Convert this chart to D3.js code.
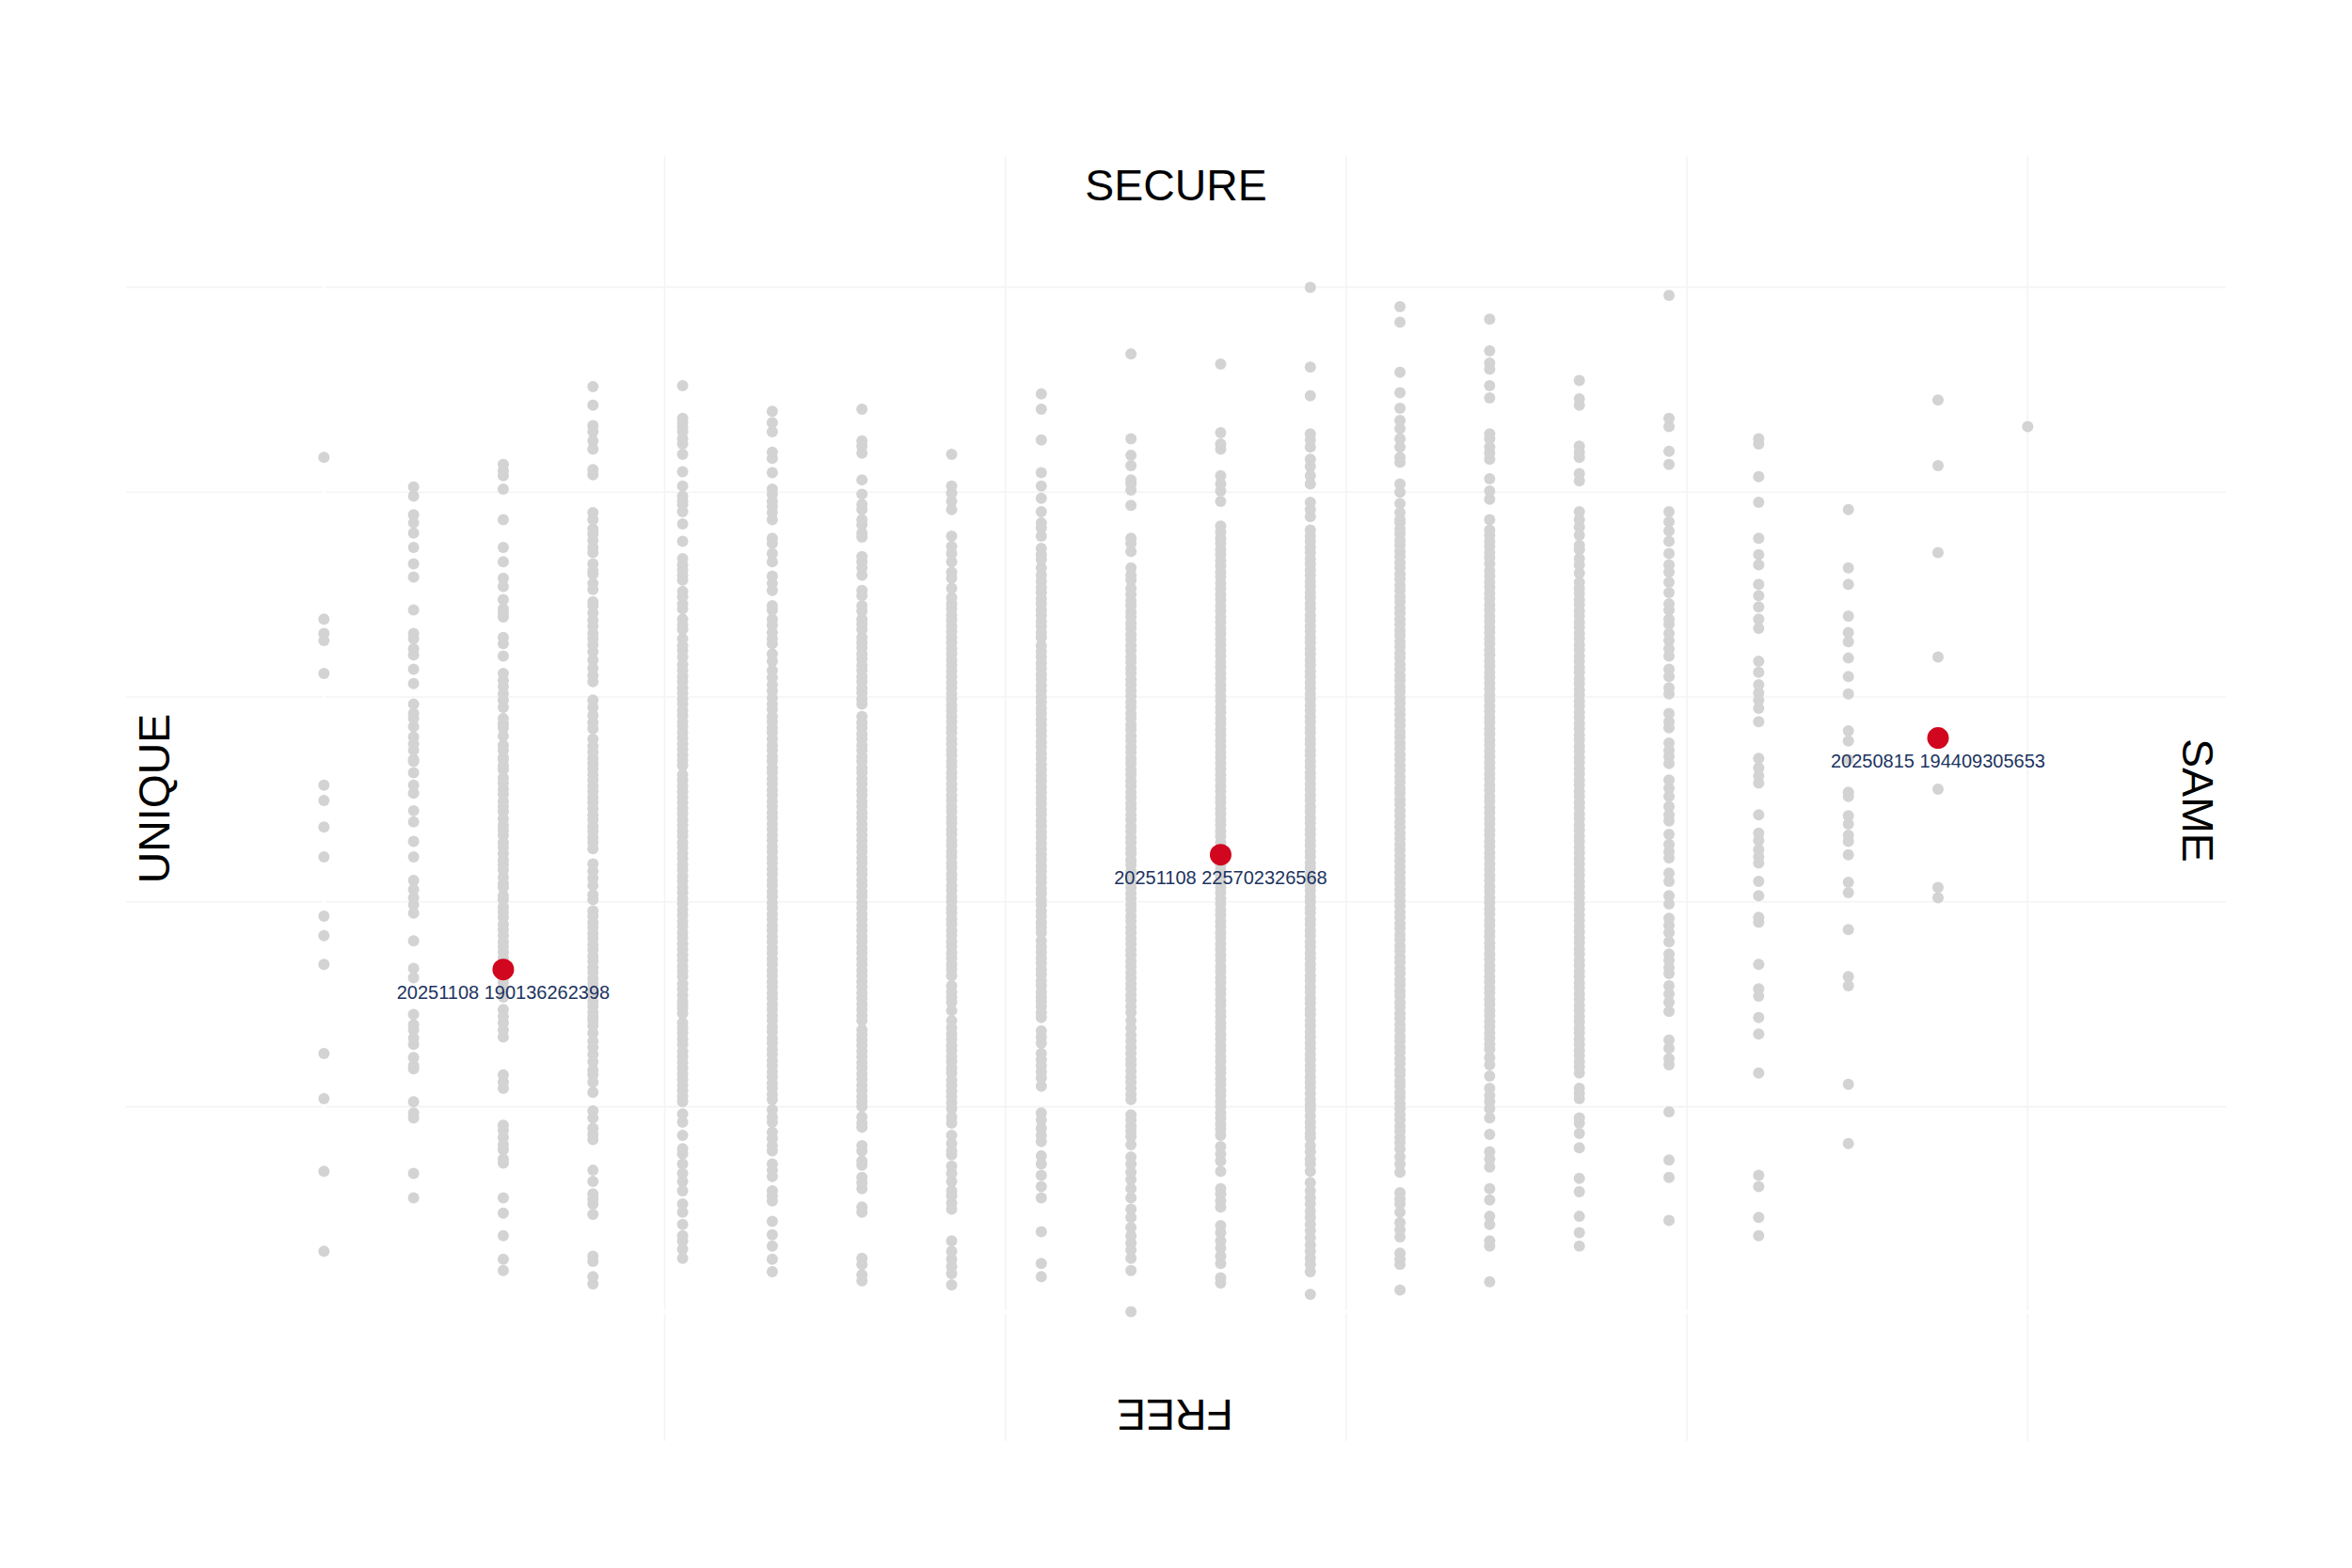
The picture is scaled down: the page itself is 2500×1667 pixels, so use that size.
<!DOCTYPE html>
<html>
<head>
<meta charset="utf-8">
<script src="https://cdnjs.cloudflare.com/ajax/libs/d3/7.8.5/d3.min.js"></script>
<style>
    html, body { margin: 0; padding: 0; background: #fff; }
    svg { display: block; }
    text { font-family: "Liberation Sans", Helvetica, Arial, sans-serif; }
</style>
</head>
<body>
<div id="chart"></div>
<script>
// scores per column, in thousandths (0 to 1000)
const col00 = [59,137,208,252,339,367,386,444,473,499,514,623,655,662,676,834];
const col01 = [111,135,189,194,205,237,240,248,261,267,275,280,290,326,335,362,389,397,404,412,421,444,459,478,489,506,514,526,537,539,548,554,561,571,579,584,593,613,627,641,647,657,662,685,717,730,746,760,770,778,796,805];
const col02 = [40,51,74,96,111,145,149,158,163,170,177,182,218,224,231,268,275,282,288,295,307,314,321,326,334,339,345,351,356,361,367,373,378,385,390,395,402,406,414,418,424,431,436,441,447,453,458,465,470,475,481,488,493,498,505,510,516,521,529,533,539,541,548,553,562,570,574,579,590,597,603,610,616,623,640,652,658,678,682,686,695,708,716,732,746,773,803,816,821,827];
const col03 = [27,34,49,54,95,105,110,115,127,138,168,173,179,189,196,214,224,231,236,244,251,258,264,272,279,284,287,292,298,303,309,314,320,325,331,336,342,347,353,358,364,369,375,380,386,391,402,407,416,423,430,437,452,458,463,469,474,480,485,491,497,502,508,513,519,524,530,535,540,546,552,559,569,575,582,590,597,615,621,628,636,644,651,657,662,669,675,682,689,693,705,711,720,723,730,741,746,753,759,764,773,780,817,822,842,850,859,865,885,903];
const col04 = [52,61,69,74,85,97,105,118,127,135,144,154,159,172,185,193,205,210,216,221,227,232,238,243,249,254,261,266,272,277,282,291,296,299,303,309,315,320,327,332,337,343,348,354,359,365,370,376,381,387,392,398,403,409,414,420,425,431,436,442,447,453,458,464,469,475,480,486,491,497,502,508,513,519,524,533,538,543,549,554,560,565,571,576,582,587,593,598,604,609,615,620,626,632,639,645,650,657,666,670,676,686,691,698,703,714,719,724,729,735,752,769,781,788,791,796,806,820,837,847,852,859,863,868,872,904];
const col05 = [39,51,64,75,88,108,113,118,132,138,144,157,162,169,175,185,190,197,207,212,218,223,229,234,240,245,251,256,262,267,273,278,284,289,295,300,306,311,317,322,328,333,339,344,350,355,361,366,372,377,383,388,394,399,405,410,416,421,427,432,438,443,449,454,460,465,471,476,482,487,493,498,504,509,515,520,526,531,537,542,548,553,559,565,570,576,581,588,593,599,606,612,619,626,635,642,652,657,663,670,676,685,689,704,711,718,732,740,750,755,773,780,786,791,798,803,819,833,839,859,868,879];
const col06 = [30,36,46,52,97,102,120,126,131,143,147,157,162,180,184,190,200,205,210,216,221,227,232,238,243,249,254,260,265,270,275,284,289,295,300,306,311,317,322,328,333,339,344,350,355,361,366,372,377,383,388,394,399,405,410,416,421,427,432,438,443,449,454,460,465,471,476,482,487,493,498,504,509,515,520,526,531,537,542,548,553,559,564,570,575,581,593,598,604,609,615,620,626,631,637,642,648,653,658,666,671,676,684,689,699,704,719,726,732,737,756,760,768,773,783,788,798,812,838,845,850,881];
const col07 = [26,37,44,51,59,69,100,106,113,118,127,135,142,153,157,164,172,184,190,198,204,210,215,221,226,233,238,244,249,255,260,266,271,277,284,294,302,307,312,318,328,334,339,345,350,356,361,367,372,378,383,389,394,400,405,411,416,422,427,433,438,444,449,455,460,466,471,477,482,488,493,499,504,510,515,521,526,532,537,543,548,554,559,565,570,576,581,587,592,598,603,609,614,620,625,631,636,642,647,653,658,664,669,675,680,686,691,697,706,716,722,732,740,747,757,783,791,799,806,837];
const col08 = [34,47,78,111,122,133,144,152,166,172,179,187,194,220,228,234,240,246,252,262,268,274,287,292,298,303,307,312,318,323,329,334,340,345,351,356,362,370,375,380,386,391,397,402,408,413,419,424,430,435,441,446,452,457,463,468,474,479,485,490,496,501,507,512,518,523,529,534,540,545,551,556,562,567,573,578,584,589,595,600,606,611,617,622,628,633,639,644,650,658,663,669,674,680,685,691,696,702,707,713,719,726,734,739,745,757,765,770,781,794,806,819,851,881,896];
const col09 = [0,40,52,60,67,74,82,92,100,111,120,129,136,144,151,163,171,176,181,187,192,207,212,218,224,229,235,241,246,252,258,264,270,277,284,292,298,304,309,315,320,326,331,337,342,348,353,359,364,370,375,381,386,392,397,403,408,414,419,425,430,436,441,447,452,458,463,469,474,480,485,491,496,502,507,513,518,524,529,535,540,546,551,557,562,568,573,579,584,590,595,601,606,612,617,623,628,634,639,645,650,656,661,667,672,678,683,689,694,700,706,714,719,726,742,750,755,787,802,808,812,826,836,852,935];
const col10 = [28,33,47,54,62,69,77,84,102,108,115,120,137,147,154,161,172,178,183,189,194,200,205,211,216,222,227,233,238,244,249,255,260,266,271,277,282,288,293,299,304,310,315,321,326,332,337,343,348,354,359,365,370,376,381,387,392,398,403,409,414,420,425,431,436,442,447,453,458,464,469,475,480,486,491,497,502,508,513,519,524,530,535,541,546,552,557,563,568,574,579,585,590,596,601,607,612,618,623,629,634,640,645,651,656,662,667,673,678,684,689,695,700,706,711,717,722,728,733,739,744,750,755,761,767,791,801,808,816,842,847,858,925];
const col11 = [17,39,46,52,59,65,72,79,85,92,98,105,111,118,126,137,144,149,156,162,170,174,180,185,191,197,202,207,213,219,224,229,235,240,246,251,257,262,268,273,279,284,290,295,301,306,312,317,323,328,334,339,345,350,356,361,367,372,378,383,389,394,400,405,411,416,422,427,433,438,444,449,455,460,466,471,477,482,488,493,499,504,510,515,521,526,532,537,543,548,554,559,565,570,576,581,587,592,598,603,609,614,620,625,631,636,642,647,653,658,664,669,675,680,686,691,697,702,708,713,719,724,730,735,741,746,752,757,763,776,783,790,808,816,825,832,844,851,857,894,922,1000];
const col12 = [21,46,51,57,73,80,87,97,105,110,116,136,144,151,159,165,170,176,181,187,192,198,203,209,214,220,225,231,236,242,247,253,258,264,269,275,280,286,291,297,302,308,313,319,324,330,335,341,346,352,357,363,368,374,379,385,390,396,401,407,412,418,423,429,434,440,445,451,456,462,467,473,478,484,489,495,500,506,511,517,522,528,533,539,544,550,555,561,566,572,577,583,588,594,599,605,610,616,621,627,632,638,643,649,654,660,665,671,676,682,687,693,698,704,709,715,720,726,731,737,742,748,753,759,764,770,773,780,789,800,808,829,834,844,852,862,870,882,897,917,966,981];
const col13 = [29,64,69,85,93,109,120,141,149,156,173,189,198,205,211,218,230,241,248,256,261,267,272,278,283,289,294,300,305,311,316,322,327,333,338,344,349,355,360,366,371,377,382,388,393,399,404,410,415,421,426,432,437,443,448,454,459,465,470,476,481,487,492,498,503,509,514,520,525,531,536,542,547,553,558,564,569,575,580,586,591,597,602,608,613,619,624,630,635,641,646,652,657,663,668,674,679,685,690,696,701,707,712,718,723,730,736,741,747,752,758,763,773,793,801,813,832,838,844,852,857,892,904,920,926,938,969];
const col14 = [64,77,93,117,130,160,174,184,189,208,213,218,233,239,244,250,255,261,266,272,277,283,288,294,299,305,310,316,321,327,332,338,343,349,354,360,365,371,376,382,387,393,398,404,409,415,420,426,431,437,442,448,453,459,464,470,475,481,486,492,497,503,508,514,519,525,530,536,541,547,552,558,563,569,574,580,585,591,596,602,607,613,618,624,629,635,640,646,651,657,662,668,673,679,684,690,695,701,706,712,721,729,735,744,748,758,766,773,781,811,818,834,839,845,885,891,909];
const col15 = [89,131,148,195,241,247,257,265,293,302,310,318,330,336,343,349,361,370,377,384,398,406,420,428,443,449,456,466,479,485,493,503,511,519,535,542,548,555,570,576,584,603,609,620,627,640,647,655,662,671,676,685,691,702,712,722,729,740,752,762,771,781,827,840,864,872,992];
const col16 = [74,92,122,133,233,271,287,308,315,339,380,385,406,420,438,444,451,460,467,485,516,523,531,540,576,589,597,604,612,624,635,667,676,688,699,710,729,739,755,790,815,847,852];
const col17 = [164,222,318,327,373,409,419,446,459,465,476,484,503,507,539,557,567,603,620,638,654,663,679,710,726,783];
const col18 = [404,414,510,639,741,826,890];
const col19 = [864];
const columns = [col00,col01,col02,col03,col04,col05,col06,col07,col08,col09,col10,col11,col12,col13,col14,col15,col16,col17,col18,col19];

// the three highlighted runs
const pickNames = ["20251108 190136262398", "20251108 225702326568", "20250815 194409305653"];
const pickCols = [2, 10, 18];
const pickScores = [334, 446, 560];

const xGrid = [0.2, 0.4, 0.6, 0.8, 1];
const yGrid = [0.2, 0.4, 0.6, 0.8, 1];

const width = 2500;
const height = 1667;

const x = d3.scaleLinear().domain([0, 1]).range([344.3, 2155.3]);
const y = d3.scaleLinear().domain([0, 1]).range([1394.4, 305.4]);

const plotLeft = 134, plotRight = 2366, plotTop = 166, plotBottom = 1532;

const svg = d3.select("#chart").append("svg")
    .attr("width", width)
    .attr("height", height)
    .attr("viewBox", `0 0 ${width} ${height}`);

svg.append("rect").attr("width", width).attr("height", height).attr("fill", "#fff");

// gridlines
svg.append("g").selectAll("line").data(yGrid).enter().append("line")
    .attr("x1", plotLeft).attr("x2", plotRight)
    .attr("y1", d => y(d)).attr("y2", d => y(d))
    .attr("stroke", "#f4f4f5").attr("stroke-width", 1.6);

svg.append("g").selectAll("line").data(xGrid).enter().append("line")
    .attr("y1", plotTop).attr("y2", plotBottom)
    .attr("x1", d => x(d)).attr("x2", d => x(d))
    .attr("stroke", "#f4f4f5").attr("stroke-width", 1.6);

// zero lines are white and cut the grid
svg.append("line").attr("x1", x(0)).attr("x2", x(0)).attr("y1", plotTop).attr("y2", plotBottom)
    .attr("stroke", "#fff").attr("stroke-width", 3.5);
svg.append("line").attr("x1", plotLeft).attr("x2", plotRight).attr("y1", y(0)).attr("y2", y(0))
    .attr("stroke", "#fff").attr("stroke-width", 3.5);

// gray points
const points = [];
columns.forEach((col, i) => col.forEach(v => points.push({ c: i / 19, v: v / 1000 })));

svg.append("g").selectAll("circle").data(points).enter().append("circle")
    .attr("cx", d => x(d.c))
    .attr("cy", d => y(d.v))
    .attr("r", 6)
    .attr("fill", "#d3d3d3");

// highlighted points and their labels
svg.append("g").selectAll("circle").data(pickNames).enter().append("circle")
    .attr("cx", (d, i) => x(pickCols[i] / 19))
    .attr("cy", (d, i) => y(pickScores[i] / 1000))
    .attr("r", 11.5)
    .attr("fill", "#d0071f");

svg.append("g").selectAll("text").data(pickNames).enter().append("text")
    .attr("x", (d, i) => x(pickCols[i] / 19))
    .attr("y", (d, i) => y(pickScores[i] / 1000) + 31)
    .attr("text-anchor", "middle")
    .attr("font-size", 20)
    .attr("fill", "#1d3461")
    .text(d => d);

// the four edge words
function edgeLabel(word, px, py, angle) {
    svg.append("text")
        .attr("transform", `translate(${px},${py}) rotate(${angle})`)
        .attr("text-anchor", "middle")
        .attr("font-size", 46.4)
        .attr("fill", "#000")
        .text(word);
}
edgeLabel("SECURE", 1250, 213, 0);
edgeLabel("FREE", 1249, 1487.5, 180);
edgeLabel("UNIQUE", 180, 849, -90);
edgeLabel("SAME", 2319.5, 851, 90);
</script>
</body>
</html>
